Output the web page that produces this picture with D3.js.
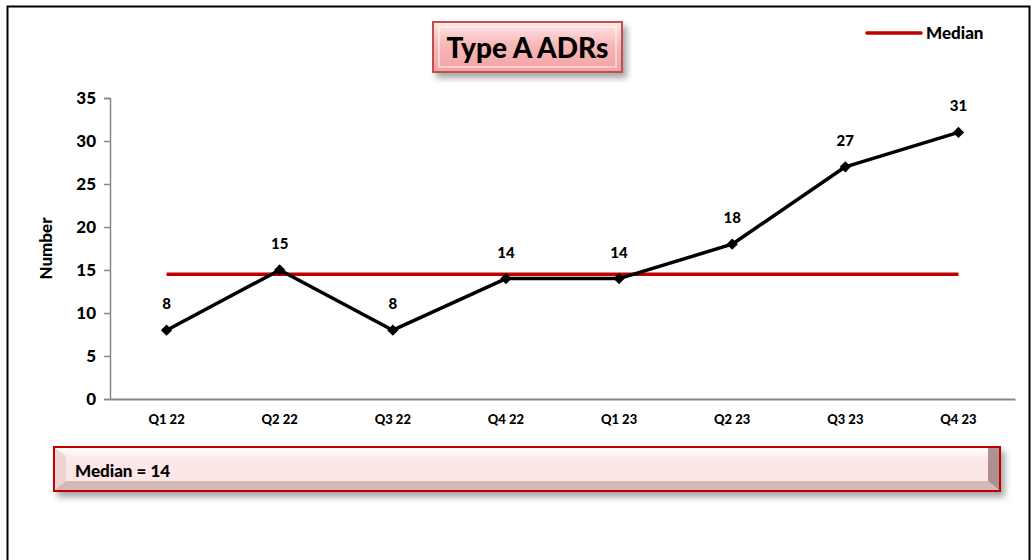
<!DOCTYPE html>
<html>
<head>
<meta charset="utf-8">
<script src="https://cdn.jsdelivr.net/npm/d3@7"></script>
<style>
  body { margin: 0; background: #fff; }
  svg { font-family: Lato, "Open Sans", sans-serif; font-weight: 900; }
</style>
</head>
<body>
<div id="chart"></div>
<script>
// data
var quarters = ["Q1 22", "Q2 22", "Q3 22", "Q4 22", "Q1 23", "Q2 23", "Q3 23", "Q4 23"];
var adrCounts = [8, 15, 8, 14, 14, 18, 27, 31];
var medianValue = 14.5;
var medianText = "Median = 14";
var yTicks = [0, 5, 10, 15, 20, 25, 30, 35];

var W = 1032, H = 560;
var margin = { top: 98, right: 17, bottom: 161, left: 110 },
  width = W - margin.left - margin.right,
  height = H - margin.top - margin.bottom;

var svg = d3.select("#chart").append("svg")
  .attr("width", W).attr("height", H);

// gradients / shadow
var defs = svg.append("defs");
var g1 = defs.append("linearGradient").attr("id", "pinkGrad")
  .attr("x1", 0).attr("y1", 0).attr("x2", 0).attr("y2", 1);
g1.append("stop").attr("offset", "0%").attr("stop-color", "#fde8e8");
g1.append("stop").attr("offset", "45%").attr("stop-color", "#f7b8b8");
g1.append("stop").attr("offset", "100%").attr("stop-color", "#f2a2a2");
var g2 = defs.append("linearGradient").attr("id", "boxGrad")
  .attr("x1", 0).attr("y1", 0).attr("x2", 0).attr("y2", 1);
g2.append("stop").attr("offset", "0%").attr("stop-color", "#ffffff");
g2.append("stop").attr("offset", "30%").attr("stop-color", "#fde6e6");
g2.append("stop").attr("offset", "100%").attr("stop-color", "#fde6e6");
var f = defs.append("filter").attr("id", "shadow")
  .attr("x", "-10%").attr("y", "-30%").attr("width", "130%").attr("height", "180%");
f.append("feDropShadow").attr("dx", 4).attr("dy", 5).attr("stdDeviation", 3)
  .attr("flood-color", "#000").attr("flood-opacity", 0.35);

// outer frame
svg.append("rect")
  .attr("x", 7.5).attr("y", 6.5).attr("width", 1022).attr("height", 600)
  .attr("fill", "none").attr("stroke", "#000").attr("stroke-width", 2);

var plot = svg.append("g")
  .attr("transform", "translate(" + margin.left + "," + margin.top + ")");

var x = d3.scaleBand().domain(quarters).range([0, width]);
var y = d3.scaleLinear().domain([0, 35]).range([height, 0]);

// Y axis
var yAxis = plot.append("g")
  .call(d3.axisLeft(y).tickValues(yTicks).tickSize(6).tickPadding(8));
yAxis.select(".domain").attr("stroke", "#888").attr("stroke-width", 1.5);
yAxis.selectAll(".tick line").attr("stroke", "#888").attr("stroke-width", 1.5);
yAxis.selectAll(".tick text").attr("font-size", 17).attr("fill", "#000")
  .attr("font-family", "Lato, sans-serif").attr("font-weight", 900);

// X axis
var xAxis = plot.append("g")
  .attr("transform", "translate(0," + height + ")")
  .call(d3.axisBottom(x).tickSize(0).tickPadding(16));
xAxis.select(".domain").attr("stroke", "#888").attr("stroke-width", 2);
xAxis.selectAll(".tick text").attr("font-size", 13).attr("fill", "#000")
  .attr("font-family", "Lato, sans-serif").attr("font-weight", 900);

// y label
svg.append("text")
  .attr("transform", "translate(52," + (margin.top + height / 2) + ") rotate(-90)")
  .attr("text-anchor", "middle").attr("font-size", 17).text("Number");

var cx = function (d, i) { return x(quarters[i]) + x.bandwidth() / 2; };

// median line
plot.append("line")
  .attr("x1", x(quarters[0]) + x.bandwidth() / 2)
  .attr("x2", x(quarters[quarters.length - 1]) + x.bandwidth() / 2)
  .attr("y1", y(medianValue)).attr("y2", y(medianValue))
  .attr("stroke", "#c00000").attr("stroke-width", 3.5);

// data line
plot.append("path")
  .datum(adrCounts)
  .attr("fill", "none").attr("stroke", "#000").attr("stroke-width", 3.5)
  .attr("stroke-linejoin", "round")
  .attr("d", d3.line().x(cx).y(function (d) { return y(d); }));

plot.selectAll(".pt").data(adrCounts).enter().append("rect")
  .attr("class", "pt")
  .attr("x", -4).attr("y", -4).attr("width", 8).attr("height", 8)
  .attr("transform", function (d, i) { return "translate(" + cx(d, i) + "," + y(d) + ") rotate(45)"; })
  .attr("fill", "#000");

plot.selectAll(".lbl").data(adrCounts).enter().append("text")
  .attr("class", "lbl")
  .attr("x", cx)
  .attr("y", function (d) { return y(d) - 21; })
  .attr("text-anchor", "middle").attr("font-size", 15)
  .text(function (d) { return d; });

// title box
var tb = svg.append("g").attr("filter", "url(#shadow)");
tb.append("rect").attr("x", 433).attr("y", 22).attr("width", 189).attr("height", 50)
  .attr("fill", "url(#pinkGrad)").attr("stroke", "#c0504d").attr("stroke-width", 2);
tb.append("rect").attr("x", 439).attr("y", 27).attr("width", 177).attr("height", 40)
  .attr("fill", "none").attr("stroke", "#fff").attr("stroke-opacity", 0.6).attr("stroke-width", 1.5);
svg.append("text").attr("x", 527.5).attr("y", 58).attr("text-anchor", "middle")
  .attr("font-size", 28).text("Type A ADRs");

// legend
svg.append("line").attr("x1", 867).attr("x2", 921).attr("y1", 33).attr("y2", 33)
  .attr("stroke", "#c00000").attr("stroke-width", 3.5).attr("stroke-linecap", "round");
svg.append("text").attr("x", 926).attr("y", 39).attr("font-size", 17).text("Median");

// median box
var mb = svg.append("g").attr("filter", "url(#shadow)");
mb.append("rect").attr("x", 54).attr("y", 447).attr("width", 946).attr("height", 44)
  .attr("fill", "url(#boxGrad)").attr("stroke", "#c00000").attr("stroke-width", 2);
mb.append("path")
  .attr("d", "M988,448 L999,448 L999,490 L988,481 Z")
  .attr("fill", "#8a6a6a").attr("opacity", 0.7);
mb.append("path")
  .attr("d", "M55,448 L66,456 L66,481 L55,490 Z")
  .attr("fill", "#e8d0d0").attr("opacity", 0.8);
mb.append("path")
  .attr("d", "M55,490 L66,481 L988,481 L999,490 Z")
  .attr("fill", "#b89a9a").attr("opacity", 0.6);
svg.append("text").attr("x", 75).attr("y", 477).attr("font-size", 17).text(medianText);
</script>
</body>
</html>
